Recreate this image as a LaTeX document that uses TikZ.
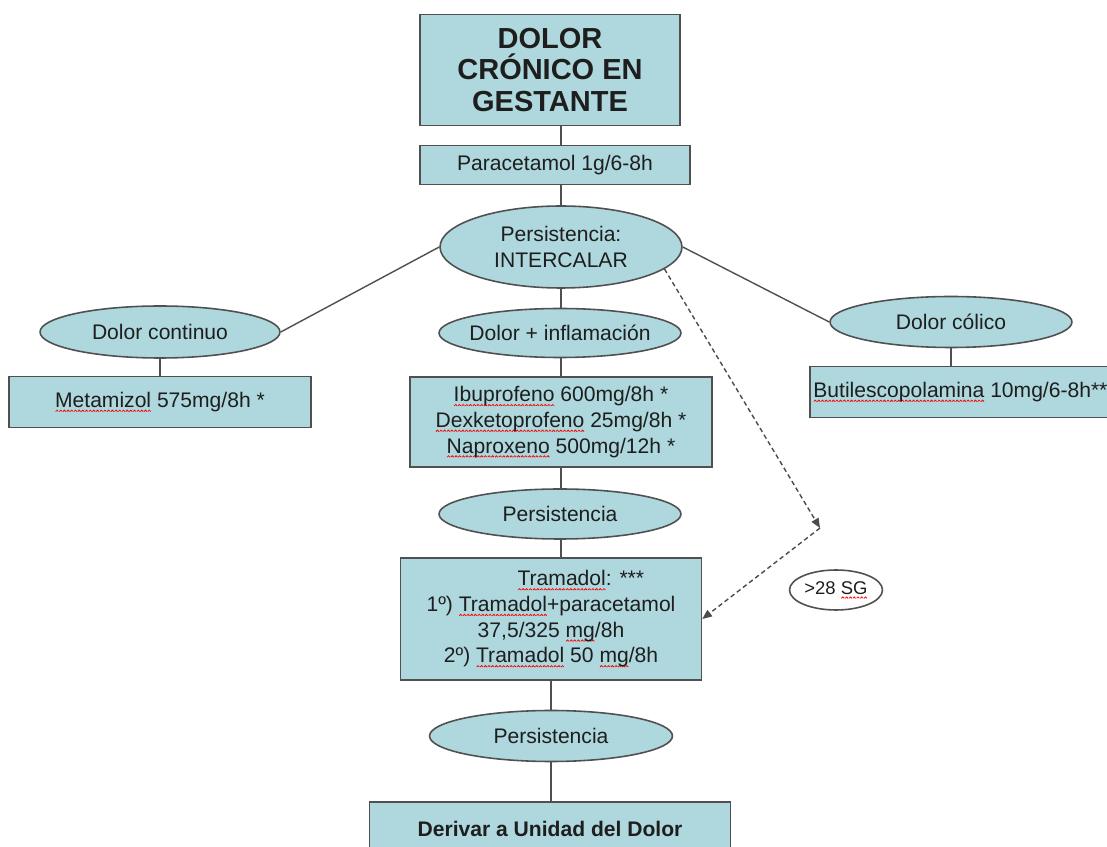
\documentclass[tikz,border=0pt]{standalone}
\usepackage{fontspec}
\setmainfont{Liberation Sans}
\usetikzlibrary{shapes.geometric,arrows.meta}

\definecolor{cyanfill}{RGB}{174,216,221}
\definecolor{edge}{RGB}{80,80,80}
\definecolor{ink}{RGB}{30,30,30}

\newsavebox\wavebox
\newcommand\spell[1]{\setbox0\hbox{#1}\rlap{\raisebox{-2.6pt}{\hbox to\wd0{\xleaders\copy\wavebox\hfill}}}\box0\relax}

\tikzset{
  box/.style={draw=edge, line width=0.9pt, fill=cyanfill, text=ink, inner sep=0pt, align=center},
  oval/.style={box, ellipse, inner xsep=-10pt},
  link/.style={draw=edge, line width=0.8pt},
  jump/.style={draw=black!70, line width=0.8pt, dash pattern=on 2.6pt off 1.8pt, -{Triangle[length=5.5pt,width=4.5pt]}}
}

\begin{document}
\sbox\wavebox{\begin{pgfpicture}\pgfsetlinewidth{0.45pt}\pgfsetstrokecolor{red}%
\pgfpathmoveto{\pgfpointorigin}\pgfpathlineto{\pgfpoint{0.8pt}{0.8pt}}%
\pgfpathlineto{\pgfpoint{1.6pt}{0pt}}\pgfusepath{stroke}\end{pgfpicture}}%
\begin{tikzpicture}[x=0.02cm, y=-0.02cm, every node/.style={font=\fontsize{12}{14.6}\selectfont}]
    \useasboundingbox (0,0) rectangle (1107,847);

    \node[box, minimum width=5.2cm, minimum height=2.22cm, font=\fontsize{16.5}{18}\selectfont\bfseries] (title) at (550,70) {DOLOR\\CRÓNICO EN\\GESTANTE};
    \node[box, minimum width=5.4cm, minimum height=0.78cm] (para) at (555,165) {Paracetamol 1g/6-8h};
    \node[oval, minimum width=4.84cm, minimum height=1.64cm] (inter) at (561,247) {Persistencia:\\INTERCALAR};

    \node[oval, minimum width=4.8cm, minimum height=1.04cm] (cont) at (160,332) {Dolor continuo};
    \node[box, minimum width=6.04cm, minimum height=1.02cm] (metam) at (160,402) {\spell{Metamizol} 575mg/8h *};

    \node[oval, minimum width=4.84cm, minimum height=0.98cm] (infl) at (560,333) {Dolor + inflamación};
    \node[box, minimum width=6.04cm, minimum height=1.8cm] (ibu) at (561,422) {\spell{Ibuprofeno} 600mg/8h *\\\spell{Dexketoprofeno} 25mg/8h *\\\spell{Naproxeno} 500mg/12h *};
    \node[oval, minimum width=4.84cm, minimum height=1cm] (pers1) at (560,514) {Persistencia};
    \node[box, minimum width=6.02cm, minimum height=2.44cm] (tram) at (551,619) {\hspace*{34pt}\spell{Tramadol}: ***\\1º) \spell{Tramadol}+paracetamol\\37,5/325 \spell{mg}/8h\\2º) \spell{Tramadol} 50 \spell{mg}/8h};
    \node[oval, minimum width=4.86cm, minimum height=1.02cm] (pers2) at (551,736) {Persistencia};
    \node[box, minimum width=7.22cm, minimum height=1.1cm, anchor=north, font=\fontsize{12}{14.6}\selectfont\bfseries] (deriv) at (550,801) {Derivar a Unidad del Dolor};

    \node[oval, minimum width=4.84cm, minimum height=1.02cm] (colic) at (951,322) {Dolor cólico};
    \node[box, minimum width=6.04cm, minimum height=1.02cm] (butil) at (961,392) {};
    \node[anchor=west, text=ink, inner sep=0pt] (butiltxt) at (813,392) {\spell{Butilescopolamina} 10mg/6-8h**};

    \node[oval, fill=white, minimum width=1.86cm, minimum height=0.8cm, font=\fontsize{10.5}{12}\selectfont] (sg) at (836,590) {>28 \spell{SG}};
    \coordinate (bend) at (820,528);

    \foreach \a/\b in {title/para, para/inter, inter/infl, infl/ibu, ibu/pers1, pers1/tram}
    \draw[link] (\a.south -| inter) -- (\b.north -| inter);
    \foreach \a/\b in {tram/pers2, pers2/deriv}
    \draw[link] (\a.south -| pers2) -- (\b.north -| pers2);

    \draw[link] (cont.south) -- (metam.north);
    \draw[link] (colic.south) -- (butil.north -| colic);
    \draw[link] (inter.west) -- (cont.east);
    \draw[link] (inter.east) -- (colic.west);

%    dashed path for >28 SG
    \draw[jump] (inter.-12) -- (bend);
    \draw[jump] (bend) -- (tram.east);

\end{tikzpicture}
\end{document}
